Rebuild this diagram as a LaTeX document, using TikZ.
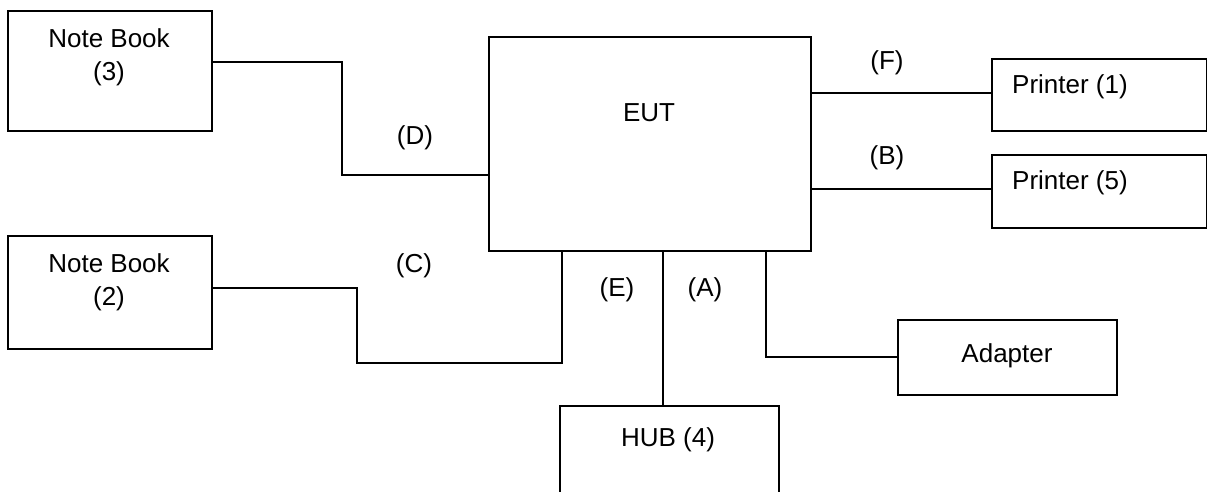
\documentclass[tikz,border=0pt]{standalone}
\usepackage{fontspec}
\setmainfont{Liberation Sans}
\newcommand\diagfont{\fontsize{26}{33}\selectfont}
\tikzset{
  box/.style={draw, line width=2pt, inner sep=0pt, anchor=north west},
  wire/.style={line width=2pt},
  lbl/.style={font=\diagfont, inner sep=0pt, align=center},
}
\begin{document}
\begin{tikzpicture}[x=1pt, y=-1pt]
\clip (0,0) rectangle (1207,491);
\fill[white] (0,0) rectangle (1207,491);

% equipment boxes
\node[box, minimum width=204pt, minimum height=120pt] (nb3) at (7,10) {};
\node[box, minimum width=204pt, minimum height=113pt] (nb2) at (7,235) {};
\node[box, minimum width=322pt, minimum height=214pt] (eut) at (488,36) {};
\node[box, minimum width=215pt, minimum height=72pt] (pr1) at (991,58) {};
\node[box, minimum width=215pt, minimum height=73pt] (pr5) at (991,154) {};
\node[box, minimum width=219pt, minimum height=75pt] (adp) at (897,319) {};
\node[box, minimum width=219pt, minimum height=130pt] (hub) at (559,405) {};

% box captions
\node[lbl] (nb3t) at (109,57) {Note Book\\(3)};
\node[lbl] (nb2t) at (109,282) {Note Book\\(2)};
\node[lbl] (eutt) at (649,113) {EUT};
\node[lbl, anchor=west] (pr1t) at (1012,87) {Printer (1)};
\node[lbl, anchor=west] (pr5t) at (1012,183) {Printer (5)};
\node[lbl] (adpt) at (1007,356) {Adapter};
\node[lbl] (hubt) at (668,440) {HUB (4)};

% cable bend points
\coordinate (d1) at (342,62);
\coordinate (d2) at (342,175);
\coordinate (c1) at (357,288);
\coordinate (c2) at (357,363);
\coordinate (c3) at (562,363);
\coordinate (hx) at (663,0);
\coordinate (a1) at (766,357);
\coordinate (fy) at (0,93);
\coordinate (by) at (0,189);

% cables
\draw[wire] (nb3.east |- d1) -- (d1) -- (d2) -- (d2 -| eut.west);
\draw[wire] (nb2.east |- c1) -- (c1) -- (c2) -- (c3) -- (c3 |- eut.south);
\draw[wire] (eut.south -| hx) -- (hub.north -| hx);
\draw[wire] (a1 |- eut.south) -- (a1) -- (adp.west |- a1);
\draw[wire] (eut.east |- fy) -- (pr1.west |- fy);
\draw[wire] (eut.east |- by) -- (pr5.west |- by);

% cable labels
\node[lbl] (lD) at (415,138) {(D)};
\node[lbl] (lC) at (414,266) {(C)};
\node[lbl] (lE) at (617,290) {(E)};
\node[lbl] (lA) at (705,290) {(A)};
\node[lbl] (lF) at (887,63) {(F)};
\node[lbl] (lB) at (887,158) {(B)};
\end{tikzpicture}
\end{document}
